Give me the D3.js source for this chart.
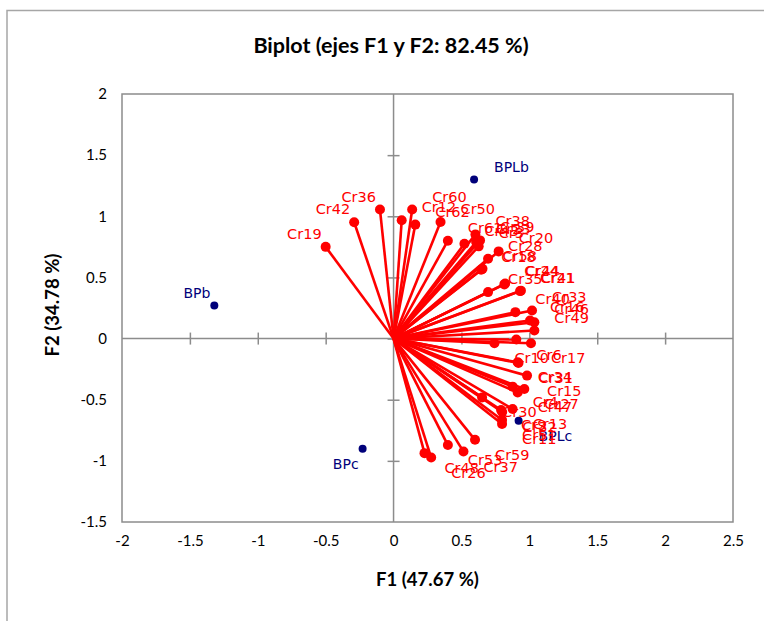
<!DOCTYPE html>
<html>
<head>
<meta charset="utf-8">
<script src="https://cdn.jsdelivr.net/npm/d3@7"></script>
<style>
  body { margin: 0; background: #fff; }
  svg { display: block; }
</style>
</head>
<body>
<svg width="764" height="621"></svg>
<script>
// variables (red vectors)
const varNames = ["Cr19","Cr42","Cr36","Cr12","Cr60","Cr62","Cr50","Cr61","Cr43","Cr38","Cr23","Cr3","Cr39",
  "Cr20","Cr28","Cr18","Cr58","Cr24","Cr44","Cr35","Cr21","Cr41","Cr33","Cr40","Cr16","Cr46","Cr49",
  "Cr10","Cr6","Cr17","Cr34","Cr31","Cr15","Cr4","Cr47","Cr27","Cr30","Cr32","Cr9","Cr13","Cr51","Cr11",
  "Cr59","Cr37","Cr53","Cr48","Cr26"];
const varF1 = [-0.50,-0.29,-0.10,0.06,0.137,0.16,0.346,0.40,0.522,0.603,0.608,0.627,0.637,
  0.774,0.696,0.645,0.655,0.816,0.822,0.696,0.932,0.938,1.02,0.897,1.005,1.037,1.037,
  0.743,0.904,1.012,0.914,0.92,0.983,0.877,0.914,0.963,0.652,0.80,0.792,0.877,0.799,0.799,
  0.60,0.515,0.40,0.228,0.277];
const varF2 = [0.75,0.951,1.055,0.967,1.055,0.932,0.953,0.80,0.776,0.852,0.789,0.754,0.803,
  0.713,0.653,0.563,0.57,0.443,0.45,0.38,0.388,0.392,0.23,0.216,0.148,0.134,0.066,
  -0.038,-0.008,-0.038,-0.194,-0.20,-0.303,-0.393,-0.44,-0.412,-0.481,-0.60,-0.584,-0.576,-0.666,-0.699,
  -0.828,-0.924,-0.871,-0.937,-0.973];

// observations (blue points)
const obsNames = ["BPLb","BPb","BPc","BPLc"];
const obsF1 = [0.593,-1.32,-0.228,0.921];
const obsF2 = [1.30,0.27,-0.90,-0.672];

const xTicks = [-2,-1.5,-1,-0.5,0,0.5,1,1.5,2,2.5];
const yTicks = [-1.5,-1,-0.5,0,0.5,1,1.5,2];

const svg = d3.select("svg");
const plot = {left: 122, right: 733, top: 94, bottom: 522};

const x = d3.scaleLinear().domain([-2, 2.5]).range([plot.left, plot.right]);
const y = d3.scaleLinear().domain([-1.5, 2]).range([plot.bottom, plot.top]);

const gray = "#8c8c8c";
const uiFont = "Lato, 'Open Sans', sans-serif";

// outer chart frame (runs off the right and bottom)
svg.append("rect")
  .attr("x", 7).attr("y", 10.5)
  .attr("width", 800).attr("height", 700)
  .attr("fill", "none").attr("stroke", "#a6a6a6").attr("stroke-width", 1.5);

svg.append("text")
  .attr("x", 391).attr("y", 53)
  .attr("text-anchor", "middle")
  .style("font-family", uiFont)
  .style("font-weight", "bold")
  .style("font-size", "21.5px")
  .text("Biplot (ejes F1 y F2: 82.45 %)");

// plot area border
svg.append("rect")
  .attr("x", plot.left).attr("y", plot.top)
  .attr("width", plot.right - plot.left).attr("height", plot.bottom - plot.top)
  .attr("fill", "none").attr("stroke", gray).attr("stroke-width", 1.5);

// tick labels, outside the plot
const xLab = svg.append("g")
  .attr("transform", "translate(0," + (plot.bottom + 10) + ")")
  .call(d3.axisBottom(x).tickValues(xTicks).tickSize(0).tickFormat(d => String(d)));
xLab.select(".domain").remove();

const yLab = svg.append("g")
  .attr("transform", "translate(" + (plot.left - 12) + ",0)")
  .call(d3.axisLeft(y).tickValues(yTicks).tickSize(0).tickFormat(d => String(d)));
yLab.select(".domain").remove();

svg.selectAll(".tick text")
  .attr("fill", "#000")
  .style("font-family", uiFont)
  .style("font-size", "15px");

// zero axes with crossing ticks
const xZero = svg.append("g")
  .attr("transform", "translate(0," + y(0) + ")")
  .call(d3.axisBottom(x).tickValues(xTicks.filter(d => d > -2 && d < 2.5)).tickSize(6).tickFormat(""));
const yZero = svg.append("g")
  .attr("transform", "translate(" + x(0) + ",0)")
  .call(d3.axisLeft(y).tickValues(yTicks.filter(d => d > -1.5 && d < 2)).tickSize(6).tickFormat(""));
xZero.selectAll(".tick line").attr("y1", -6).attr("y2", 6);
yZero.selectAll(".tick line").attr("x1", -6).attr("x2", 6);
[xZero, yZero].forEach(g => {
  g.select(".domain").attr("d", null);
  g.selectAll("line").attr("stroke", gray).attr("stroke-width", 1.5);
});
svg.append("line")
  .attr("x1", plot.left).attr("x2", plot.right).attr("y1", y(0)).attr("y2", y(0))
  .attr("stroke", gray).attr("stroke-width", 1.5);
svg.append("line")
  .attr("x1", x(0)).attr("x2", x(0)).attr("y1", plot.top).attr("y2", plot.bottom)
  .attr("stroke", gray).attr("stroke-width", 1.5);

// axis titles
svg.append("text")
  .attr("x", (plot.left + plot.right) / 2).attr("y", 586)
  .attr("text-anchor", "middle")
  .style("font-family", uiFont)
  .style("font-weight", "bold").style("font-size", "18.5px")
  .text("F1 (47.67 %)");
svg.append("text")
  .attr("transform", "translate(59," + ((plot.top + plot.bottom) / 2 - 3) + ") rotate(-90)")
  .attr("text-anchor", "middle")
  .style("font-family", uiFont)
  .style("font-weight", "bold").style("font-size", "18.5px")
  .text("F2 (34.78 %)");

const vars = varNames.map((n, i) => ({name: n, f1: varF1[i], f2: varF2[i]}));
const obs = obsNames.map((n, i) => ({name: n, f1: obsF1[i], f2: obsF2[i]}));

// label placement: right of the point on the right side, left on the left side
function labelX(d) { return d.f1 >= 0 ? x(d.f1) + 20 : x(d.f1) - 4; }
function labelY(d) { return d.f2 >= 0 ? y(d.f2) - 8 : y(d.f2) + 20; }
function anchor(d) { return d.f1 >= 0 ? "start" : "end"; }

const g = svg.append("g");
g.selectAll("line.vec")
  .data(vars)
  .enter()
  .append("line")
  .attr("class", "vec")
  .attr("x1", x(0)).attr("y1", y(0))
  .attr("x2", d => x(d.f1)).attr("y2", d => y(d.f2))
  .attr("stroke", "red").attr("stroke-width", 2.6);

g.selectAll("circle.var")
  .data(vars)
  .enter()
  .append("circle")
  .attr("class", "var")
  .attr("cx", d => x(d.f1)).attr("cy", d => y(d.f2))
  .attr("r", 5).attr("fill", "red");

g.selectAll("circle.obs")
  .data(obs)
  .enter()
  .append("circle")
  .attr("class", "obs")
  .attr("cx", d => x(d.f1)).attr("cy", d => y(d.f2))
  .attr("r", 4).attr("fill", "#00007a");

g.selectAll("text.obs")
  .data(obs)
  .enter()
  .append("text")
  .attr("class", "obs")
  .attr("x", labelX).attr("y", labelY)
  .attr("text-anchor", anchor)
  .attr("fill", "#00007a")
  .style("font-family", "'DejaVu Sans', sans-serif")
  .style("font-size", "14px")
  .text(d => d.name);

g.selectAll("text.var")
  .data(vars)
  .enter()
  .append("text")
  .attr("class", "var")
  .attr("x", labelX).attr("y", labelY)
  .attr("text-anchor", anchor)
  .attr("fill", "red")
  .style("font-family", "'DejaVu Sans', sans-serif")
  .style("font-size", "14.5px")
  .text(d => d.name);
</script>
</body>
</html>
